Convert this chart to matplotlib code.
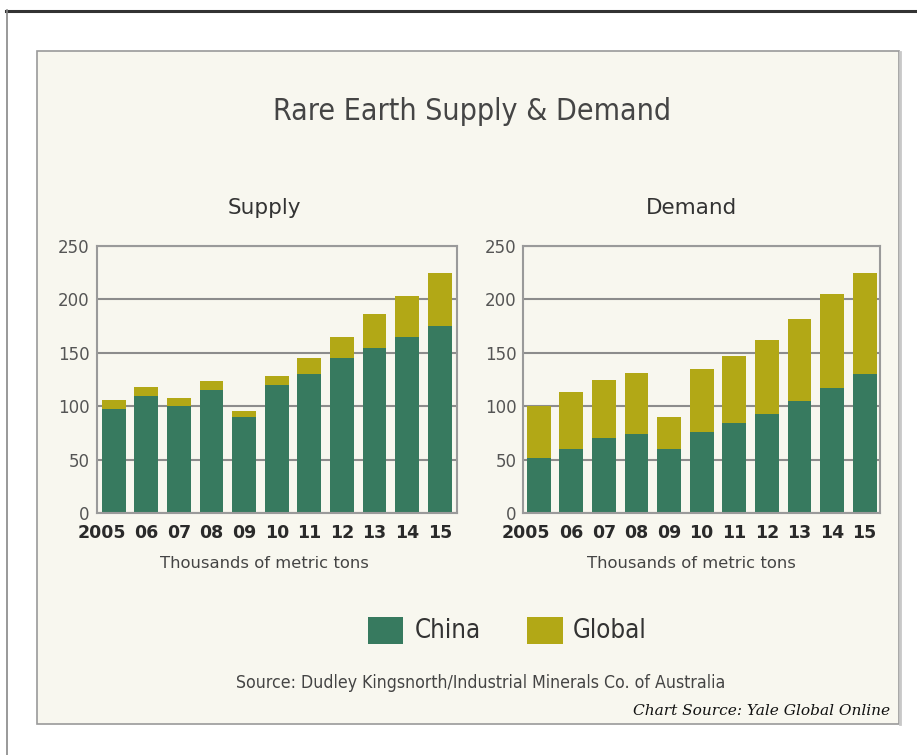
import matplotlib
matplotlib.use("Agg")
import matplotlib.pyplot as plt
import matplotlib.transforms as mtransforms
from matplotlib.patches import Rectangle
from matplotlib.lines import Line2D
import numpy as np

years = ["2005", "06", "07", "08", "09", "10", "11", "12", "13", "14", "15"]
supply_china = [98, 110, 100, 115, 90, 120, 130, 145, 155, 165, 175]
supply_global = [8, 8, 8, 9, 6, 8, 15, 20, 31, 38, 50]
demand_china = [52, 60, 70, 74, 60, 76, 84, 93, 105, 117, 130]
demand_global = [48, 53, 55, 57, 30, 59, 63, 69, 77, 88, 95]
y_ticks = [0, 50, 100, 150, 200, 250]

C_CHINA = "#377A5F"
C_GLOBAL = "#B2A816"
BG = "#F8F7EF"
GRID = "#8C8C8C"

fig = plt.figure(figsize=(9.17, 7.55), dpi=100)
fig.patch.set_facecolor("white")
W, H = 917, 755

def fx(px):
    return px / W

def fy(py):
    return 1 - py / H

# outer frame lines
fig.add_artist(Line2D([fx(6), 1.0], [fy(10.5), fy(10.5)], color="#333333", lw=2.2))
fig.add_artist(Line2D([fx(6.5), fx(6.5)], [fy(10), 0], color="#888888", lw=1.2))
# inner cream panel
fig.add_artist(Rectangle((fx(37), fy(724)), fx(899) - fx(37), fy(51) - fy(724),
                         facecolor=BG, edgecolor="#9A9A9A", lw=1.2, zorder=0))
fig.add_artist(Line2D([fx(899.5), fx(899.5)], [fy(52), fy(724)], color="#C8C8C8", lw=2.0))

cond = dict(family="DejaVu Sans", stretch="condensed")
fig.text(fx(472), fy(111), "Rare Earth Supply & Demand", ha="center", va="center",
         fontsize=21.7, color="#454545", **cond)

def draw(ax, china, glob, title, cx):
    x = np.arange(len(years))
    ax.set_facecolor(BG)
    ax.set_axisbelow(True)
    ax.yaxis.grid(True, color=GRID, lw=1.5)
    ax.bar(x, china, width=0.73, color=C_CHINA, zorder=2)
    ax.bar(x, glob, width=0.73, bottom=china, color=C_GLOBAL, zorder=2)
    ax.set_ylim(0, 250)
    ax.set_yticks(y_ticks)
    ax.set_xticks(x)
    ax.set_xticklabels(years)
    for s in ax.spines.values():
        s.set_color("#9A9A9A")
        s.set_linewidth(1.5)
    ax.tick_params(axis="both", length=0)
    ax.tick_params(axis="y", labelsize=12, labelcolor="#555555", pad=5)
    ax.tick_params(axis="x", labelsize=12.5, labelcolor="#2A2A2A", pad=8)
    for lab in ax.get_xticklabels():
        lab.set_fontweight("bold")
    first = ax.get_xticklabels()[0]
    first.set_horizontalalignment("right")
    first.set_transform(first.get_transform() +
                        mtransforms.ScaledTranslation(0.12, 0, fig.dpi_scale_trans))
    fig.text(fx(cx), fy(208), title, ha="center", va="center", fontsize=15.5,
             color="#333333")
    fig.text(fx(cx), fy(564), "Thousands of metric tons", ha="center", va="center",
             fontsize=11.8, color="#444444")

ax1 = fig.add_axes([fx(96.7), fy(513.3), fx(456.7) - fx(96.7), fy(246) - fy(513.3)])
draw(ax1, supply_china, supply_global, "Supply", 264)
ax1.set_xlim(-0.52, 10.52)

ax2 = fig.add_axes([fx(523.3), fy(513.3), fx(880) - fx(523.3), fy(246) - fy(513.3)])
draw(ax2, demand_china, demand_global, "Demand", 691)
ax2.set_xlim(-0.47, 10.47)

# legend
fig.add_artist(Rectangle((fx(368), fy(644)), fx(403) - fx(368), fy(617) - fy(644),
                         facecolor=C_CHINA, edgecolor="none"))
fig.text(fx(415), fy(630.5), "China", ha="left", va="center", fontsize=18.5,
         color="#333333", **cond)
fig.add_artist(Rectangle((fx(527), fy(644)), fx(563) - fx(527), fy(617) - fy(644),
                         facecolor=C_GLOBAL, edgecolor="none"))
fig.text(fx(573), fy(630.5), "Global", ha="left", va="center", fontsize=18.5,
         color="#333333", **cond)

fig.text(fx(481), fy(683), "Source: Dudley Kingsnorth/Industrial Minerals Co. of Australia",
         ha="center", va="center", fontsize=12.7, color="#444444", **cond)
fig.text(fx(890), fy(711), "Chart Source: Yale Global Online", ha="right", va="center",
         fontsize=11.1, color="#111111", style="italic", family="DejaVu Serif")

fig.savefig("out.png", dpi=100, facecolor="white")
